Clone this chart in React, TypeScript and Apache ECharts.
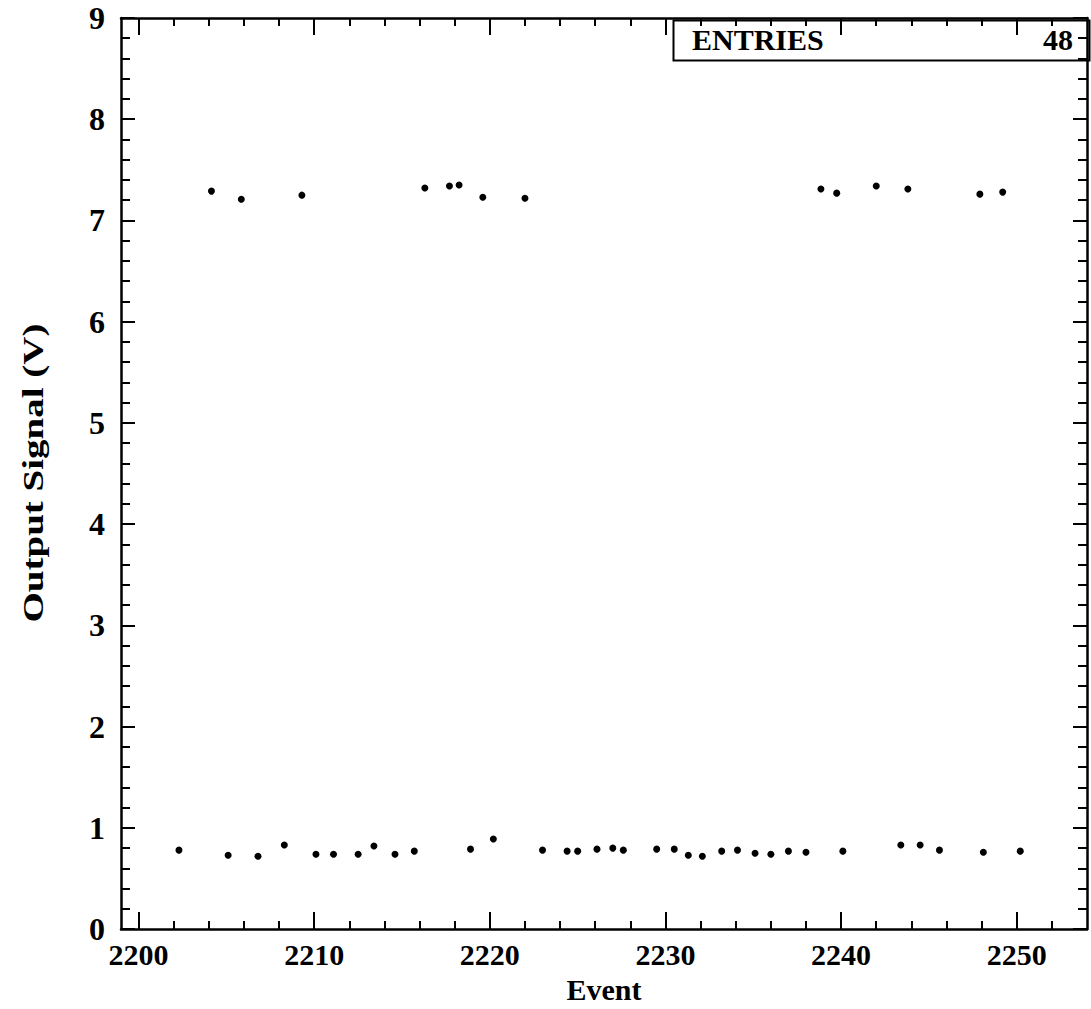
import React, { useEffect, useRef } from "react";
import * as echarts from "echarts";

// ---- data ----
const highEvents = [2204.15, 2205.85, 2209.3, 2216.3, 2217.7, 2218.25, 2219.6, 2222.0, 2238.85, 2239.75, 2242.0, 2243.8, 2247.9, 2249.2];
const highSignal = [7.29, 7.21, 7.25, 7.32, 7.34, 7.35, 7.23, 7.22, 7.31, 7.27, 7.34, 7.31, 7.26, 7.28];

const lowEvents = [2202.3, 2205.1, 2206.8, 2208.3, 2210.1, 2211.1, 2212.5, 2213.4, 2214.6, 2215.7, 2218.9, 2220.2, 2223.0, 2224.4, 2225.0, 2226.1, 2227.0, 2227.6, 2229.5, 2230.5, 2231.3, 2232.1, 2233.2, 2234.1, 2235.1, 2236.0, 2237.0, 2238.0, 2240.1, 2243.4, 2244.5, 2245.6, 2248.1, 2250.2];
const lowSignal = [0.78, 0.73, 0.72, 0.83, 0.74, 0.74, 0.74, 0.82, 0.74, 0.77, 0.79, 0.89, 0.78, 0.77, 0.77, 0.79, 0.80, 0.78, 0.79, 0.79, 0.73, 0.72, 0.77, 0.78, 0.75, 0.74, 0.77, 0.76, 0.77, 0.83, 0.83, 0.78, 0.76, 0.77];

const xMajorTicks = [2200, 2210, 2220, 2230, 2240, 2250];
const xMinorTicks = [2200, 2202, 2204, 2206, 2208, 2210, 2212, 2214, 2216, 2218, 2220, 2222, 2224, 2226, 2228, 2230, 2232, 2234, 2236, 2238, 2240, 2242, 2244, 2246, 2248, 2250, 2252];
const xMin = 2199;
const xMax = 2254;
const yMin = 0;
const yMax = 9;

const xTitle = "Event";
const yTitle = "Output Signal (V)";
const statLabel = "ENTRIES";
const statValue = String(highEvents.length + lowEvents.length);

const FONT = "'Liberation Serif', 'Times New Roman', serif";

export default function App() {
  const ref = useRef<HTMLDivElement>(null);
  useEffect(() => {
    document.body.style.margin = "0";
    if (!ref.current) return;
    const chart = echarts.init(ref.current, null, { renderer: "svg" });
    const data: number[][] = [];
    highEvents.forEach((x, i) => data.push([x, highSignal[i]]));
    lowEvents.forEach((x, i) => data.push([x, lowSignal[i]]));
    data.sort((a, b) => a[0] - b[0]);

    const black = "#000";
    const baseX = {
      type: "value",
      min: xMin,
      max: xMax,
      splitLine: { show: false },
    };
    const xAxes = [
      {
        ...baseX,
        position: "bottom",
        axisLine: { show: true, lineStyle: { color: black, width: 2.5 } },
        axisTick: { show: true, inside: true, length: 17, customValues: xMajorTicks, lineStyle: { color: black, width: 2 } },
        axisLabel: {
          show: true,
          customValues: xMajorTicks,
          formatter: (v: number) => String(v),
          color: black,
          fontSize: 30,
          fontWeight: "bold",
          fontFamily: FONT,
          margin: 10,
        },
        name: xTitle,
        nameLocation: "middle",
        nameGap: 44,
        nameTextStyle: { color: black, fontSize: 30, fontWeight: "bold", fontFamily: FONT },
      },
      {
        ...baseX,
        position: "bottom",
        axisLine: { show: false },
        axisTick: { show: true, inside: true, length: 8, customValues: xMinorTicks, lineStyle: { color: black, width: 2 } },
        axisLabel: { show: false },
      },
      {
        ...baseX,
        position: "top",
        axisLine: { show: true, lineStyle: { color: black, width: 2.5 } },
        axisTick: { show: true, inside: true, length: 17, customValues: xMajorTicks, lineStyle: { color: black, width: 2 } },
        axisLabel: { show: false },
      },
      {
        ...baseX,
        position: "top",
        axisLine: { show: false },
        axisTick: { show: true, inside: true, length: 8, customValues: xMinorTicks, lineStyle: { color: black, width: 2 } },
        axisLabel: { show: false },
      },
    ];
    const baseY = {
      type: "value",
      min: yMin,
      max: yMax,
      interval: 1,
      splitLine: { show: false },
      axisLine: { show: true, lineStyle: { color: black, width: 2.5 } },
      axisTick: { show: true, inside: true, length: 14, lineStyle: { color: black, width: 2 } },
      minorTick: { show: true, splitNumber: 5, length: 9, lineStyle: { color: black, width: 2 } },
    };
    const yAxes = [
      {
        ...baseY,
        position: "left",
        axisLabel: { show: true, color: black, fontSize: 32, fontWeight: "bold", fontFamily: FONT, margin: 16 },
      },
      {
        ...baseY,
        position: "right",
        axisLabel: { show: false },
      },
    ];

    chart.setOption({
      animation: false,
      backgroundColor: "#fff",
      grid: { left: 121, right: 4, top: 18, bottom: 77, containLabel: false },
      xAxis: xAxes,
      yAxis: yAxes,
      series: [
        {
          type: "scatter",
          xAxisIndex: 0,
          yAxisIndex: 0,
          data,
          symbol: "circle",
          symbolSize: 7,
          itemStyle: { color: black, opacity: 1 },
        },
      ],
      graphic: [
        {
          type: "rect",
          left: 671,
          top: 18,
          shape: { width: 416, height: 40 },
          style: { fill: "none", stroke: black, lineWidth: 2 },
          z: 10,
        },
        {
          type: "text",
          x: 692,
          y: 39,
          style: { text: statLabel, fill: black, font: `bold 30px ${FONT}`, textAlign: "left", textVerticalAlign: "middle" },
          z: 10,
        },
        {
          type: "text",
          x: 1073,
          y: 39,
          style: { text: statValue, fill: black, font: `bold 30px ${FONT}`, textAlign: "right", textVerticalAlign: "middle" },
          z: 10,
        },
        {
          type: "text",
          x: 33,
          y: 473,
          rotation: Math.PI / 2,
          scaleX: 1.3,
          style: { text: yTitle, fill: black, font: `bold 30px ${FONT}`, textAlign: "center", textVerticalAlign: "middle" },
          z: 10,
        },
      ],
    });
    return () => chart.dispose();
  }, []);
  return <div ref={ref} style={{ width: 1091, height: 1009 }} />;
}
